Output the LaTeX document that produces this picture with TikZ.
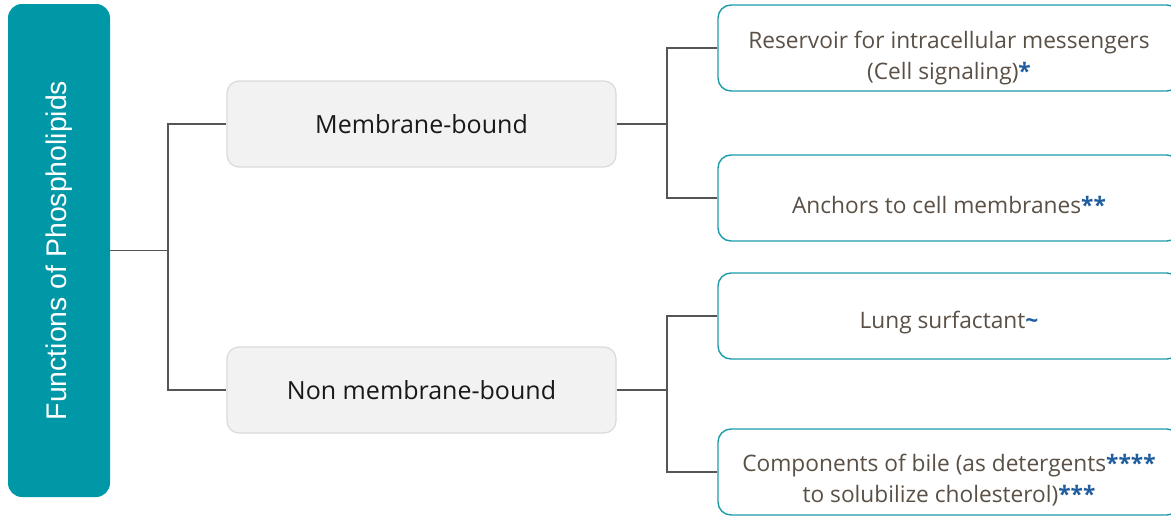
\documentclass[tikz,border=0pt]{standalone}
\usepackage{fontspec}
\setmainfont{Open Sans}
\newfontfamily\titlefont{Liberation Sans}
\definecolor{teal1}{HTML}{0097A7}
\definecolor{leafline}{HTML}{1C9CAA}
\definecolor{midfill}{HTML}{F2F2F2}
\definecolor{midline}{HTML}{DADADA}
\definecolor{leaftext}{HTML}{5A5045}
\definecolor{starblue}{HTML}{1F5C9E}
\definecolor{connline}{HTML}{555555}
\newcommand{\stars}[1]{\textcolor{starblue}{\bfseries #1}}
\tikzset{
  titlebox/.style={rectangle, rounded corners=14pt, fill=teal1, draw=none, text=white,
    minimum width=493pt, minimum height=102pt, inner sep=0pt, rotate=90,
    font=\titlefont\fontsize{28.4}{32}\selectfont},
  midbox/.style={rectangle, rounded corners=12pt, fill=midfill, draw=midline, line width=1.2pt,
    minimum width=389pt, minimum height=86pt, inner sep=0pt, text=black!90,
    font=\fontsize{25}{30}\selectfont},
  leafbox/.style={rectangle, rounded corners=13pt, fill=white, draw=leafline, line width=1.4pt,
    minimum width=462pt, minimum height=86pt, inner sep=0pt},
  leaftxt/.style={text=leaftext, align=center, inner sep=0pt, yshift=-7pt,
    font=\fontsize{22.7}{31}\selectfont},
  conn/.style={draw=connline, line width=1.3pt}
}
\begin{document}
\begin{tikzpicture}[x=1pt,y=-1pt]
\useasboundingbox (0,0) rectangle (1171,517);
\clip (0,0) rectangle (1171,517);
\node[titlebox] (title) at (59,250.5) {Functions of Phospholipids};
\node[midbox] (mb) at (421.5,124) {Membrane-bound};
\node[midbox] (nmb) at (421.5,390) {Non membrane-bound};
\node[leafbox, label={[leaftxt, yshift=-3pt]center:{Reservoir for intracellular messengers\\(Cell signaling)\stars{*}}}] (l1) at (949,48) {};
\node[leafbox, label={[leaftxt]center:{Anchors to cell membranes\stars{**}}}] (l2) at (949,198) {};
\node[leafbox, label={[leaftxt]center:{Lung surfactant\stars{\char"007E}}}] (l3) at (949,316) {};
\node[leafbox, label={[leaftxt, yshift=-1pt]center:{Components of bile (as detergents\stars{****}\\to solubilize cholesterol)\stars{***}}}] (l4) at (949,472) {};
\coordinate (j0) at (168,250.5);
\coordinate (j1) at (667,124);
\coordinate (j2) at (667,390);
\draw[conn] (title.south) -- (j0);
\draw[conn] (j0) |- (mb.west);
\draw[conn] (j0) |- (nmb.west);
\draw[conn] (mb.east) -- (j1);
\draw[conn] (j1) |- (l1.west);
\draw[conn] (j1) |- (l2.west);
\draw[conn] (nmb.east) -- (j2);
\draw[conn] (j2) |- (l3.west);
\draw[conn] (j2) |- (l4.west);
\end{tikzpicture}
\end{document}
